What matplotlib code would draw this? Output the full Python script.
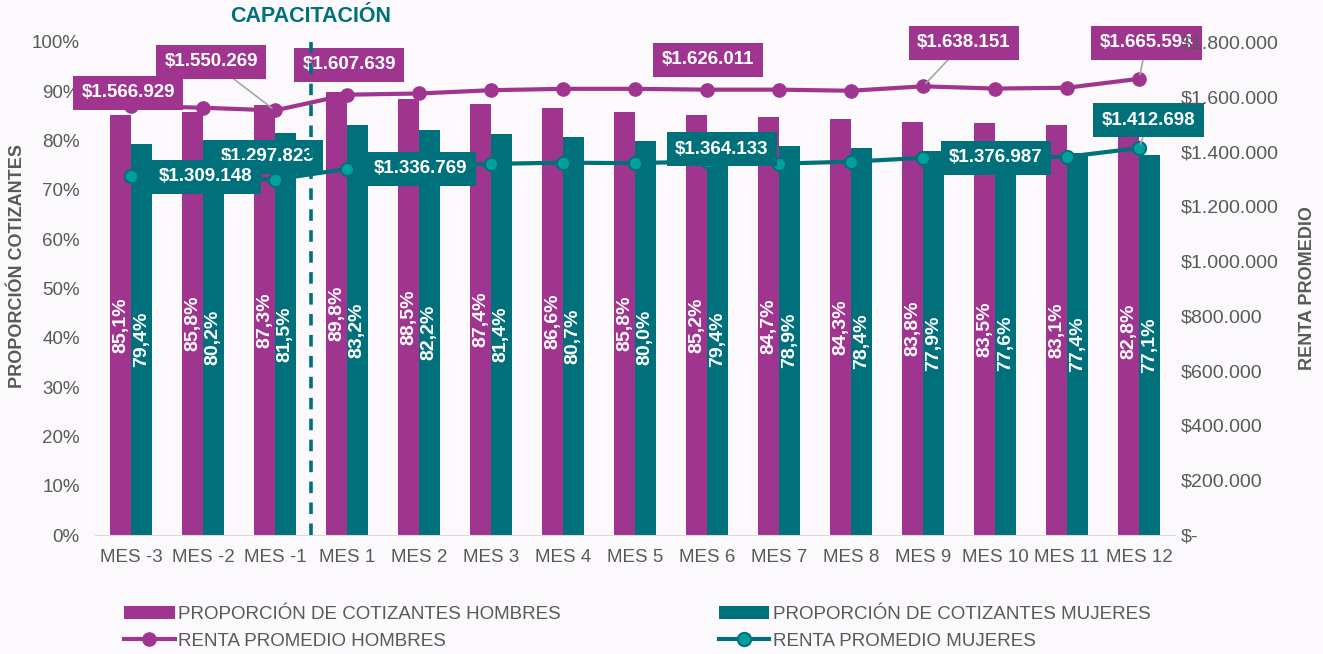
import numpy as np
import matplotlib.pyplot as plt
from matplotlib.ticker import FuncFormatter, MultipleLocator

plt.rcParams['font.family'] = ['Liberation Sans', 'DejaVu Sans']

meses = ['MES -3', 'MES -2', 'MES -1', 'MES 1', 'MES 2', 'MES 3', 'MES 4', 'MES 5',
         'MES 6', 'MES 7', 'MES 8', 'MES 9', 'MES 10', 'MES 11', 'MES 12']
prop_hombres = [85.1, 85.8, 87.3, 89.8, 88.5, 87.4, 86.6, 85.8, 85.2, 84.7, 84.3, 83.8, 83.5, 83.1, 82.8]
prop_mujeres = [79.4, 80.2, 81.5, 83.2, 82.2, 81.4, 80.7, 80.0, 79.4, 78.9, 78.4, 77.9, 77.6, 77.4, 77.1]
renta_hombres = [1566929, 1560000, 1550269, 1607639, 1612000, 1624000, 1629000, 1629000,
                 1626011, 1626000, 1622000, 1638151, 1630000, 1633000, 1665594]
renta_mujeres = [1309148, 1303000, 1297823, 1336769, 1346000, 1355000, 1359500, 1357500,
                 1364133, 1356000, 1363000, 1376987, 1378000, 1381000, 1412698]

MAG = '#A03590'
TEAL = '#00707A'
TEAL_MK = '#00A19A'
GRIS = '#595959'
BG = '#FBF9FC'

fig = plt.figure(figsize=(13.23, 6.54), dpi=100, facecolor=BG)
ax = fig.add_axes([95/1323, 119/654, 1080/1323, 493/654])
ax.set_facecolor(BG)

x = np.arange(len(meses))
w = 0.285
b1 = ax.bar(x - w/2, prop_hombres, w, color=MAG, zorder=2)
b2 = ax.bar(x + w/2, prop_mujeres, w, color=TEAL, zorder=2)
for bars, vals in ((b1, prop_hombres), (b2, prop_mujeres)):
    for r, v in zip(bars, vals):
        ax.text(r.get_x() + r.get_width()/2, v/2, f"{v:.1f}%".replace('.', ','),
                rotation=90, ha='center', va='center', color='white',
                fontsize=14, fontweight='bold', zorder=3)

ax.set_xlim(-0.5, len(meses) - 0.5)
ax.set_ylim(0, 100)
ax.yaxis.set_major_locator(MultipleLocator(10))
ax.yaxis.set_major_formatter(FuncFormatter(lambda v, p: f"{v:.0f}%"))
ax.set_xticks(x, meses)
ax.tick_params(length=0, labelsize=13.5, colors=GRIS)
ax.tick_params(axis='y', pad=11)
ax.tick_params(axis='x', pad=10)
for s in ['top', 'left', 'right']:
    ax.spines[s].set_visible(False)
ax.spines['bottom'].set_color('#D9D9D9')

ax2 = ax.twinx()
l1, = ax2.plot(x, renta_hombres, color=MAG, lw=3, marker='o', ms=9.5, zorder=3)
l2, = ax2.plot(x, renta_mujeres, color=TEAL, lw=3, marker='o', ms=9.5,
               mfc=TEAL_MK, mec=TEAL, mew=1.5, zorder=3)
ax2.set_ylim(0, 1800000)
ax2.yaxis.set_major_locator(MultipleLocator(200000))


def pesos(v, p=None):
    if v == 0:
        return '$-'
    return '$' + f"{int(round(v)):,}".replace(',', '.')


ax2.yaxis.set_major_formatter(FuncFormatter(pesos))
ax2.tick_params(length=0, labelsize=14, colors=GRIS, pad=4)
ax2.yaxis.set_zorder(7)
for s in ax2.spines.values():
    s.set_visible(False)

# capacitacion marker
ax2.axvline(2.5, color=TEAL, lw=2.6, ls=(0, (3.2, 2.6)), zorder=10)
ax2.text(2.5, 1.051, 'CAPACITACIÓN', transform=ax2.get_xaxis_transform(),
         ha='center', va='center', color=TEAL, fontsize=15.5, fontweight='bold')

# data labels: (serie, color, index, offset in points, leader line)
etiquetas = [
    (renta_hombres, MAG, 0, (-2, 9.3), False),
    (renta_hombres, MAG, 2, (-46, 35), True),
    (renta_hombres, MAG, 3, (1.5, 21.4), False),
    (renta_hombres, MAG, 8, (0.7, 21.4), False),
    (renta_hombres, MAG, 11, (29.5, 31.2), True),
    (renta_hombres, MAG, 14, (5.5, 25.8), True),
    (renta_mujeres, TEAL, 2, (-5.3, 16.3), False),
    (renta_mujeres, TEAL, 0, (54, -0.4), False),
    (renta_mujeres, TEAL, 3, (53.3, 0), False),
    (renta_mujeres, TEAL, 8, (10.8, 8.9), False),
    (renta_mujeres, TEAL, 11, (52.6, 0), False),
    (renta_mujeres, TEAL, 14, (7, 20.2), True),
]
for serie, col, i, off, leader in etiquetas:
    ap = dict(arrowstyle='-', color='#A6A6A6', lw=1.2, shrinkA=0, shrinkB=3) if leader else None
    ax2.annotate(pesos(serie[i]), xy=(i, serie[i]), xytext=off, textcoords='offset points',
                 ha='center', va='center', color='white', fontsize=13.5, fontweight='bold',
                 bbox=dict(boxstyle='square,pad=0.45', fc=col, ec='none'),
                 arrowprops=ap, zorder=6)

fig.text(18/1323, (654-266)/654, 'PROPORCIÓN COTIZANTES', rotation=90, ha='center',
         va='center', fontsize=13, fontweight='bold', color=GRIS)
fig.text(1308/1323, (654-288)/654, 'RENTA PROMEDIO', rotation=90, ha='center',
         va='center', fontsize=13, fontweight='bold', color=GRIS)

fig.legend([b1, l1, b2, l2],
           ['PROPORCIÓN DE COTIZANTES HOMBRES', 'RENTA PROMEDIO HOMBRES',
            'PROPORCIÓN DE COTIZANTES MUJERES', 'RENTA PROMEDIO MUJERES'],
           ncol=2, loc='upper left', bbox_to_anchor=(124/1323, (654-606)/654),
           frameon=False, fontsize=13.5, handlelength=2.7, handletextpad=0.2,
           columnspacing=8.4, labelspacing=0.5, borderpad=0, borderaxespad=0,
           labelcolor=GRIS)

fig.savefig('out.png', dpi=100, facecolor=BG)
